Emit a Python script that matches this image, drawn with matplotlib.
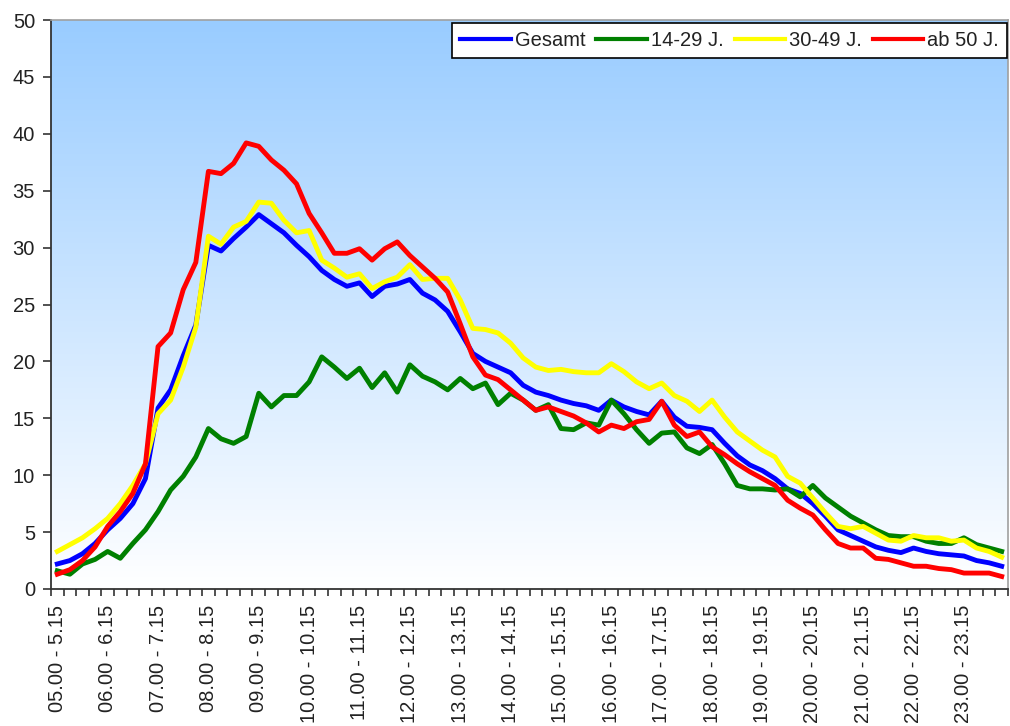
import numpy as np
import matplotlib
matplotlib.use("Agg")
import matplotlib.pyplot as plt
from matplotlib.colors import LinearSegmentedColormap
from matplotlib.lines import Line2D

plt.rcParams["font.family"] = ["Liberation Sans", "DejaVu Sans"]

# Quarter-hour slots from 05.00 to 23.45 (76 values per series)
hour_labels = ["05.00 - 5.15", "06.00 - 6.15", "07.00 - 7.15", "08.00 - 8.15",
               "09.00 - 9.15", "10.00 - 10.15", "11.00 - 11.15", "12.00 - 12.15",
               "13.00 - 13.15", "14.00 - 14.15", "15.00 - 15.15", "16.00 - 16.15",
               "17.00 - 17.15", "18.00 - 18.15", "19.00 - 19.15", "20.00 - 20.15",
               "21.00 - 21.15", "22.00 - 22.15", "23.00 - 23.15"]

gesamt = [2.2, 2.5, 3.1, 4.0, 5.2, 6.2, 7.5, 9.7, 15.9, 17.5, 20.5, 23.2,
          30.2, 29.7, 30.8, 31.8, 32.9, 32.1, 31.3, 30.2, 29.2, 28.0, 27.2, 26.6,
          26.9, 25.7, 26.6, 26.8, 27.2, 26.0, 25.4, 24.4, 22.6, 20.7, 20.0, 19.5,
          19.0, 17.9, 17.3, 17.0, 16.6, 16.3, 16.1, 15.7, 16.6, 16.0, 15.6, 15.3,
          16.5, 15.1, 14.3, 14.2, 14.0, 12.8, 11.7, 10.9, 10.4, 9.7, 8.8, 8.4,
          7.5, 6.4, 5.2, 4.7, 4.2, 3.7, 3.4, 3.2, 3.6, 3.3, 3.1, 3.0,
          2.9, 2.5, 2.3, 2.0]

j14_29 = [1.6, 1.3, 2.2, 2.6, 3.3, 2.7, 4.0, 5.2, 6.8, 8.7, 9.9, 11.6,
          14.1, 13.2, 12.8, 13.4, 17.2, 16.0, 17.0, 17.0, 18.2, 20.4, 19.5, 18.5,
          19.4, 17.7, 19.0, 17.3, 19.7, 18.7, 18.2, 17.5, 18.5, 17.6, 18.1, 16.2,
          17.2, 16.6, 15.7, 16.2, 14.1, 14.0, 14.6, 14.4, 16.6, 15.4, 14.0, 12.8,
          13.7, 13.8, 12.4, 11.9, 12.7, 11.0, 9.1, 8.8, 8.8, 8.7, 8.8, 8.1,
          9.1, 8.0, 7.2, 6.4, 5.8, 5.2, 4.7, 4.6, 4.6, 4.2, 4.0, 4.0,
          4.5, 3.9, 3.6, 3.3]

j30_49 = [3.3, 3.9, 4.5, 5.3, 6.2, 7.5, 9.1, 11.0, 15.4, 16.6, 19.5, 23.0,
          31.0, 30.3, 31.8, 32.3, 34.0, 33.9, 32.4, 31.3, 31.5, 28.9, 28.2, 27.4,
          27.7, 26.4, 27.0, 27.4, 28.5, 27.2, 27.3, 27.3, 25.4, 22.9, 22.8, 22.5,
          21.6, 20.3, 19.5, 19.2, 19.3, 19.1, 19.0, 19.0, 19.8, 19.1, 18.2, 17.6,
          18.1, 17.0, 16.5, 15.6, 16.6, 15.1, 13.8, 13.0, 12.2, 11.6, 9.9, 9.3,
          8.0, 6.7, 5.5, 5.3, 5.5, 4.9, 4.3, 4.2, 4.7, 4.5, 4.5, 4.2,
          4.3, 3.6, 3.3, 2.8]

ab_50 = [1.3, 1.7, 2.5, 3.7, 5.5, 6.8, 8.4, 11.0, 21.3, 22.5, 26.3, 28.7,
         36.7, 36.5, 37.4, 39.2, 38.9, 37.7, 36.8, 35.6, 33.0, 31.3, 29.5, 29.5,
         29.9, 28.9, 29.9, 30.5, 29.3, 28.3, 27.3, 26.1, 23.3, 20.4, 18.8, 18.4,
         17.5, 16.6, 15.7, 16.0, 15.6, 15.2, 14.6, 13.8, 14.4, 14.1, 14.7, 14.9,
         16.5, 14.4, 13.4, 13.8, 12.5, 11.8, 11.0, 10.3, 9.7, 9.1, 7.8, 7.1,
         6.5, 5.2, 4.0, 3.6, 3.6, 2.7, 2.6, 2.3, 2.0, 2.0, 1.8, 1.7,
         1.4, 1.4, 1.4, 1.1]

series_names = ["Gesamt", "14-29 J.", "30-49 J.", "ab 50 J."]
series_colors = ["#0000FF", "#008000", "#FFFF00", "#FF0000"]
series_values = [gesamt, j14_29, j30_49, ab_50]

n = len(gesamt)
x = np.arange(n)

fig = plt.figure(figsize=(10.1, 7.26), dpi=100)
fig.patch.set_facecolor("white")
ax = fig.add_axes([51 / 1010, 137 / 726, 957 / 1010, 569 / 726])

# plot-area gradient: light blue at the top fading to white
cmap = LinearSegmentedColormap.from_list("sky", ["#FFFFFF", "#99CCFF"])
grad = np.linspace(1, 0, 256).reshape(-1, 1)
ax.imshow(grad, extent=[-0.5, n - 0.5, 0, 50], aspect="auto", cmap=cmap,
          zorder=0, interpolation="bicubic")

for vals, color in zip(series_values, series_colors):
    ax.plot(x, vals, color=color, lw=3.5, zorder=2, solid_joinstyle="round")

ax.set_xlim(-0.5, n - 0.5)
ax.set_ylim(0, 50)

# y axis
ax.set_yticks(np.arange(0, 51, 5))
ax.tick_params(axis="y", direction="out", length=5.5, width=1.2, color="#333333",
               labelsize=14.5, labelcolor="#222222", pad=6)

# x axis: tick marks between categories, labels on each full hour
ax.set_xticks(np.arange(-0.5, n, 1.0))
ax.set_xticklabels([])
ax.tick_params(axis="x", which="major", direction="out", length=5, width=1.2,
               color="#333333")
ax.set_xticks(np.arange(0, n, 4), minor=True)
ax.set_xticklabels(hour_labels, minor=True, rotation=90, fontsize=14.5,
                   color="#222222", va="top", ha="center")
ax.tick_params(axis="x", which="minor", length=0, pad=11.5)

for side in ("left", "bottom"):
    ax.spines[side].set_color("#333333")
    ax.spines[side].set_linewidth(1.3)
for side in ("top", "right"):
    ax.spines[side].set_color("#A0A0A0")
    ax.spines[side].set_linewidth(1.2)

handles = [Line2D([0], [0], color=c, lw=3) for c in series_colors]
leg = ax.legend(handles, series_names, loc="upper right", ncol=4,
                bbox_to_anchor=(0.999, 0.995), borderaxespad=0,
                fontsize=14.5, frameon=True, fancybox=False, framealpha=1,
                edgecolor="black", handlelength=2.5, handletextpad=0.2,
                columnspacing=0.55, borderpad=0.4)
leg.get_frame().set_linewidth(1.2)
for t in leg.get_texts():
    t.set_color("#222222")

fig.savefig("out.png", dpi=100, facecolor="white")
